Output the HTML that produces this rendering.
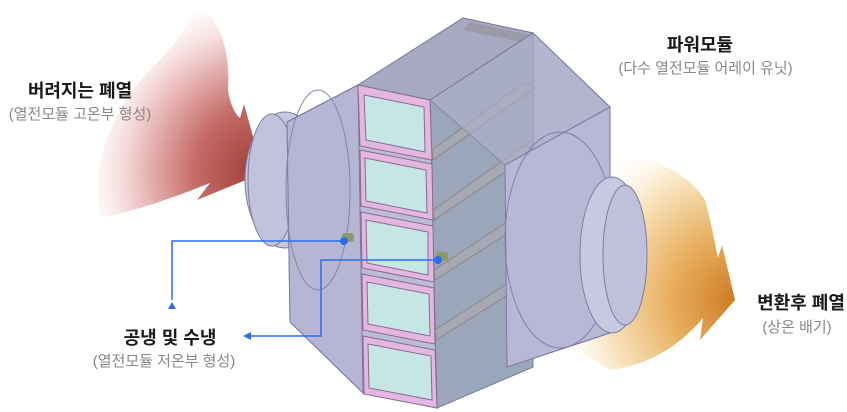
<!DOCTYPE html>
<html><head><meta charset="utf-8"><style>
html,body{margin:0;padding:0;background:#fff;}
body{width:847px;height:412px;overflow:hidden;position:relative;font-family:"Liberation Sans","Noto Sans CJK KR",sans-serif;}
.t{position:absolute;white-space:nowrap;text-align:center;}
.b{font-weight:bold;font-size:18px;color:#1a1a1a;}
.g{font-size:15px;color:#888;}
</style></head><body>
<svg width="847" height="412" style="position:absolute;left:0;top:0">
<defs>
<radialGradient id="red" gradientUnits="userSpaceOnUse" cx="262" cy="172" r="190">
<stop offset="0" stop-color="#9c3a36"/>
<stop offset="0.35" stop-color="#c46a66"/>
<stop offset="0.7" stop-color="#f2d0d0"/>
<stop offset="1" stop-color="#fff" stop-opacity="0"/>
</radialGradient>
<radialGradient id="org" gradientUnits="userSpaceOnUse" cx="735" cy="300" r="190">
<stop offset="0" stop-color="#cf7a22"/>
<stop offset="0.35" stop-color="#e8b060"/>
<stop offset="0.7" stop-color="#f9e6c2"/>
<stop offset="1" stop-color="#fff" stop-opacity="0"/>
</radialGradient>
</defs>
<!-- left flame -->
<path d="M195,5 C225,20 230,60 228,90 C230,105 236,115 240,118 L244,104 L263,173 L197,200 L210,183 C180,195 140,210 100,218 C90,170 110,110 150,70 C175,45 190,25 195,5 Z" fill="url(#red)"/>
<!-- right flame -->
<path d="M600,160 C650,150 690,175 705,200 C712,225 715,245 718,258 L722,245 L735,300 L700,340 L703,318 C680,345 650,365 610,370 L560,340 C600,320 625,290 625,250 C625,210 610,185 600,160 Z" fill="url(#org)"/>
<!-- left pipe -->
<ellipse cx="285" cy="180" rx="40" ry="68" fill="#c8c8e0" stroke="#7e7ea0" stroke-width="1"/>
<ellipse cx="272" cy="180" rx="24" ry="66" fill="#c2c2dc" stroke="#7e7ea0"/>
<!-- main rear body -->
<polygon points="287,122 358,85 463,18 533,33 610,107 610,333 507,367 437,408 363,393 290,322" fill="#bcbcd9" stroke="#7a7a9e" stroke-width="1"/>
<polygon points="287,122 358,85 363,393 290,322" fill="#b6b6d4" stroke="#7a7a9e"/>
<ellipse cx="318" cy="190" rx="32" ry="100" fill="none" stroke="#8585a8"/>
<!-- top -->
<polygon points="358,85 463,18 533,33 430,100" fill="#a8a8c0" stroke="#7a7a9e"/>
<polygon points="470,22 530,35 520,42 463,30" fill="#9a9aa8"/>
<!-- fin side -->
<polygon points="430,100 533,33 533,367 437,408" fill="#9ca6ba" stroke="#7a7a9e"/>
<g fill="#a8a8b4" stroke="#888">
<polygon points="432,150 525,82 535,88 433,160"/>
<polygon points="433,210 525,145 535,152 434,220"/>
<polygon points="434,270 525,210 535,216 435,280"/>
<polygon points="435,330 525,272 535,278 436,340"/>
</g>
<!-- right box -->
<polygon points="505,165 610,107 610,333 507,367" fill="#b8b8d6" stroke="#7a7a9e"/>
<polygon points="533,33 610,107 505,165 430,100" fill="#b0b0cc" stroke="#7a7a9e" opacity="0.6"/>
<ellipse cx="560" cy="240" rx="55" ry="108" fill="none" stroke="#8080a4"/>
<ellipse cx="612" cy="255" rx="32" ry="78" fill="#c8c8e0" stroke="#7e7ea0"/>
<ellipse cx="625" cy="255" rx="22" ry="70" fill="#c0c0da" stroke="#7e7ea0"/>
<!-- front panels -->
<g stroke="#8a6a8a" stroke-width="1">
<polygon points="358,85 430,100 432,160 360,146" fill="#e2b8e2"/>
<polygon points="364,95 424,107 425,152 366,140" fill="#c6e6e6"/>
<polygon points="360,150 432,164 433,220 361,206" fill="#e2b8e2"/>
<polygon points="365,158 426,170 427,213 366,201" fill="#c6e6e6"/>
<polygon points="361,212 433,226 434,282 362,268" fill="#e2b8e2"/>
<polygon points="366,220 428,232 428,275 367,263" fill="#c6e6e6"/>
<polygon points="362,274 434,288 435,344 363,330" fill="#e2b8e2"/>
<polygon points="367,282 429,294 430,336 368,324" fill="#c6e6e6"/>
<polygon points="363,336 435,350 437,408 364,394" fill="#e2b8e2"/>
<polygon points="368,344 431,356 432,400 369,388" fill="#c6e6e6"/>
</g>
<!-- connectors -->
<g stroke="#2a6ef0" stroke-width="1.5" fill="none">
<polyline points="172,300 172,241 344,241"/>
<polyline points="250,336 321,336 321,260 438,260"/>
</g>
<rect x="342" y="233" width="12" height="9" fill="#8a9a6a" rx="3"/>
<rect x="436" y="252" width="12" height="9" fill="#8a9a6a" rx="3"/>
<circle cx="344" cy="241" r="4" fill="#2a6ef0"/>
<circle cx="438" cy="260" r="4" fill="#2a6ef0"/>
<polygon points="168,309 176,309 172,302" fill="#2a6ef0"/>
<polygon points="243,336 251,332 251,340" fill="#2a6ef0"/>
</svg>
<div class="t b" style="left:10px;top:77px;width:140px;">버려지는 폐열</div>
<div class="t g" style="left:0px;top:103px;width:160px;">(열전모듈 고온부 형성)</div>
<div class="t b" style="left:640px;top:31px;width:120px;">파워모듈</div>
<div class="t g" style="left:598px;top:57px;width:215px;">(다수 열전모듈 어레이 유닛)</div>
<div class="t b" style="left:100px;top:324px;width:140px;">공냉 및 수냉</div>
<div class="t g" style="left:80px;top:350px;width:168px;">(열전모듈 저온부 형성)</div>
<div class="t b" style="left:755px;top:289px;width:92px;">변환후 폐열</div>
<div class="t g" style="left:753px;top:316px;width:88px;">(상온 배기)</div>
</body></html>
